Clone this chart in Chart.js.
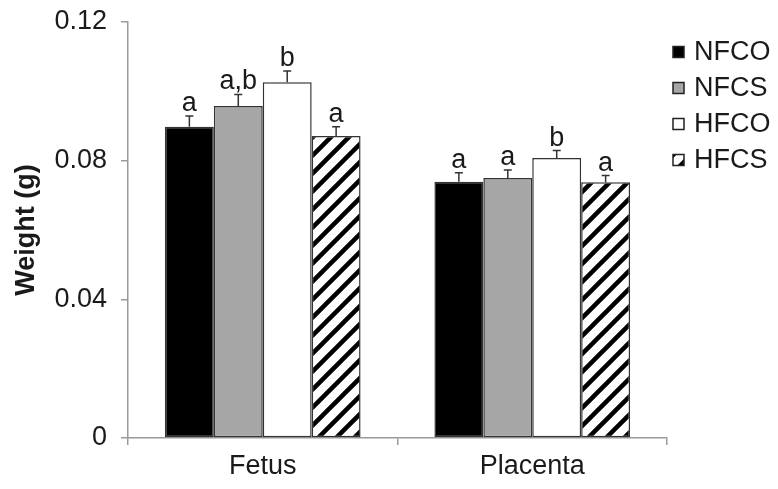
<!DOCTYPE html>
<html>
<head>
<meta charset="utf-8">
<script src="https://cdn.jsdelivr.net/npm/chart.js@4.4.0/dist/chart.umd.min.js"></script>
<style>
  body { margin: 0; background: #fff; }
  #wrap { width: 778px; height: 489px; position: relative; }
</style>
</head>
<body>
<div id="wrap"><canvas id="chart"></canvas></div>
<script>
const categories = ["Fetus", "Placenta"];
const groups = ["NFCO", "NFCS", "HFCO", "HFCS"];

const nfco = [0.0898, 0.0739];
const nfcs = [0.0958, 0.0750];
const hfco = [0.1026, 0.0808];
const hfcs = [0.0871, 0.0738];

const nfcoErr = [0.0031, 0.0026];
const nfcsErr = [0.0033, 0.0023];
const hfcoErr = [0.0033, 0.0021];
const hfcsErr = [0.0027, 0.0019];

const nfcoSig = ["a", "a"];
const nfcsSig = ["a,b", "a"];
const hfcoSig = ["b", "b"];
const hfcsSig = ["a", "a"];

const yTicks = [0, 0.04, 0.08, 0.12];

const FONT = "'Liberation Sans', Arial, sans-serif";
const TEXT = "#1a1a1a";
const AXIS = "#9a9a9a";

function makeHatch() {
  const s = 18;
  const c = document.createElement("canvas");
  c.width = s;
  c.height = s;
  const g = c.getContext("2d");
  g.fillStyle = "#fff";
  g.fillRect(0, 0, s, s);
  g.strokeStyle = "#000";
  g.lineWidth = 4.5;
  g.beginPath();
  g.moveTo(-2, s + 2); g.lineTo(s + 2, -2);
  g.moveTo(-s / 2 - 2, s / 2 + 2); g.lineTo(s / 2 + 2, -s / 2 - 2);
  g.moveTo(s / 2 - 2, s * 1.5 + 2); g.lineTo(s * 1.5 + 2, s / 2 - 2);
  g.stroke();
  return g.createPattern(c, "repeat");
}

const hatch = makeHatch();

const datasets = [
  { label: groups[0], data: nfco, err: nfcoErr, sig: nfcoSig, backgroundColor: "#000000" },
  { label: groups[1], data: nfcs, err: nfcsErr, sig: nfcsSig, backgroundColor: "#a6a6a6" },
  { label: groups[2], data: hfco, err: hfcoErr, sig: hfcoSig, backgroundColor: "#ffffff" },
  { label: groups[3], data: hfcs, err: hfcsErr, sig: hfcsSig, backgroundColor: hatch },
].map(d => Object.assign(d, {
  borderColor: "#333",
  borderWidth: 1.5,
  borderSkipped: false,
  barPercentage: 1.0,
  categoryPercentage: 0.726,
}));

// error bars + significance letters
const errorBars = {
  id: "errorBars",
  afterDatasetsDraw(chart) {
    const ctx = chart.ctx;
    const y = chart.scales.y;
    ctx.save();
    chart.data.datasets.forEach((ds, i) => {
      const meta = chart.getDatasetMeta(i);
      meta.data.forEach((bar, j) => {
        const top = y.getPixelForValue(ds.data[j] + ds.err[j]);
        ctx.strokeStyle = "#333";
        ctx.lineWidth = 1.5;
        ctx.beginPath();
        ctx.moveTo(bar.x, bar.y);
        ctx.lineTo(bar.x, top);
        ctx.moveTo(bar.x - 4, top);
        ctx.lineTo(bar.x + 4, top);
        ctx.stroke();
        ctx.fillStyle = TEXT;
        ctx.font = "27px " + FONT;
        ctx.textAlign = "center";
        ctx.textBaseline = "alphabetic";
        ctx.fillText(ds.sig[j], bar.x, top - 5);
      });
    });
    ctx.restore();
  }
};

// legend on the right
const sideLegend = {
  id: "sideLegend",
  afterDraw(chart) {
    const ctx = chart.ctx;
    ctx.save();
    chart.data.datasets.forEach((ds, i) => {
      const cy = 52 + i * 36;
      ctx.fillStyle = ds.backgroundColor;
      ctx.fillRect(673, cy - 5.5, 11, 11);
      ctx.strokeStyle = "#222";
      ctx.lineWidth = 1.5;
      ctx.strokeRect(673, cy - 5.5, 11, 11);
      ctx.fillStyle = TEXT;
      ctx.font = "27px " + FONT;
      ctx.textAlign = "left";
      ctx.textBaseline = "middle";
      ctx.fillText(ds.label, 694, cy + 1);
    });
    ctx.restore();
  }
};

new Chart(document.getElementById("chart"), {
  type: "bar",
  data: { labels: categories, datasets: datasets },
  plugins: [errorBars, sideLegend],
  options: {
    responsive: true,
    maintainAspectRatio: false,
    animation: false,
    layout: { padding: { top: 22, right: 111, left: 0, bottom: 0 } },
    plugins: { legend: { display: false }, tooltip: { enabled: false } },
    scales: {
      x: {
        afterFit(scale) {
          scale.height = 51;
          scale.paddingLeft = 0;
          scale.paddingRight = 0;
        },
        grid: { display: true, drawOnChartArea: false, offset: true, tickLength: 7, color: AXIS, lineWidth: 1.5 },
        border: { color: AXIS, width: 1.5 },
        ticks: { color: TEXT, font: { family: FONT, size: 27 }, padding: 5 },
      },
      y: {
        min: 0,
        max: 0.12,
        afterFit(scale) {
          scale.width = 128;
          scale.paddingTop = 0;
          scale.paddingBottom = 0;
        },
        afterBuildTicks(scale) { scale.ticks = yTicks.map(v => ({ value: v })); },
        grid: { drawOnChartArea: false, tickLength: 7, color: AXIS, lineWidth: 1.5 },
        border: { color: AXIS, width: 1.5 },
        ticks: {
          color: TEXT,
          font: { family: FONT, size: 27 },
          padding: 14,
          callback: v => (v === 0 ? "0" : v.toFixed(2)),
        },
        title: {
          display: true,
          text: "Weight (g)",
          color: TEXT,
          font: { family: FONT, size: 27, weight: "bold" },
          padding: { top: 10, bottom: 0 },
        },
      },
    },
  },
});
</script>
</body>
</html>
